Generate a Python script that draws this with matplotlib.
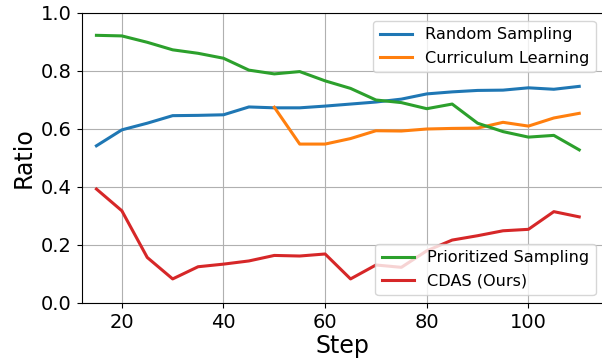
import numpy as np
import matplotlib
matplotlib.use("Agg")
import matplotlib.pyplot as plt

steps = [15, 20, 25, 30, 35, 40, 45, 50, 55, 60, 65, 70, 75, 80, 85, 90, 95, 100, 105, 110]
random_sampling = [0.542, 0.597, 0.620, 0.646, 0.647, 0.649, 0.676, 0.673, 0.673, 0.679,
                   0.686, 0.693, 0.703, 0.721, 0.728, 0.733, 0.734, 0.742, 0.737, 0.747]
curriculum_steps = [50, 55, 60, 65, 70, 75, 80, 85, 90, 95, 100, 105, 110]
curriculum = [0.675, 0.548, 0.548, 0.567, 0.594, 0.593, 0.600, 0.602, 0.603, 0.623,
              0.610, 0.638, 0.654]
prioritized = [0.923, 0.921, 0.899, 0.873, 0.861, 0.844, 0.803, 0.790, 0.798, 0.766,
               0.740, 0.700, 0.691, 0.670, 0.686, 0.620, 0.591, 0.572, 0.578, 0.528]
cdas = [0.393, 0.318, 0.157, 0.083, 0.125, 0.134, 0.145, 0.164, 0.162, 0.169,
        0.083, 0.131, 0.123, 0.180, 0.217, 0.232, 0.249, 0.254, 0.315, 0.297]

fig = plt.figure(figsize=(6.02, 3.64), dpi=100)
ax = fig.add_axes([0.1357, 0.1676, 0.867, 0.7967])

lw = 2.2
l1, = ax.plot(steps, random_sampling, color="tab:blue", lw=lw, label="Random Sampling")
l2, = ax.plot(curriculum_steps, curriculum, color="tab:orange", lw=lw, label="Curriculum Learning")
l3, = ax.plot(steps, prioritized, color="tab:green", lw=lw, label="Prioritized Sampling")
l4, = ax.plot(steps, cdas, color="tab:red", lw=lw, label="CDAS (Ours)")

ax.set_xlim(12.1, 114.8)
ax.set_ylim(0, 1.0)
ax.set_yticks([0.0, 0.2, 0.4, 0.6, 0.8, 1.0])
ax.set_xticks([20, 40, 60, 80, 100])
ax.grid(True)
ax.tick_params(labelsize=14)
ax.set_xlabel("Step", fontsize=17, labelpad=2)
ax.set_ylabel("Ratio", fontsize=17)

leg1 = ax.legend(handles=[l1, l2], loc="upper right", fontsize=11.6)
ax.add_artist(leg1)
ax.legend(handles=[l3, l4], loc="lower right", fontsize=11.6)

fig.savefig("out.png", dpi=100)
